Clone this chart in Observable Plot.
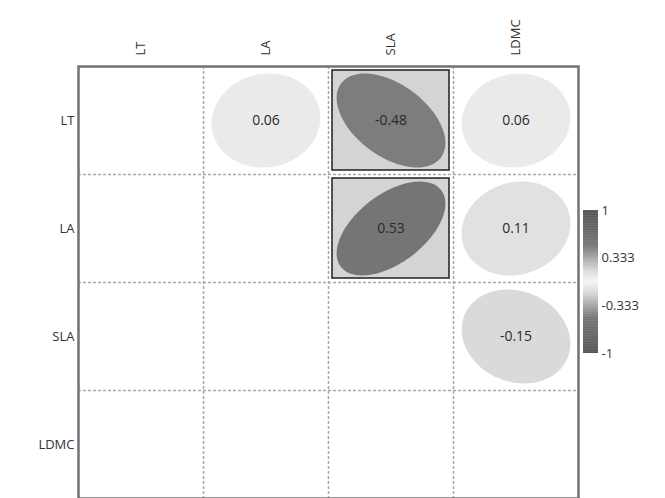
<!DOCTYPE html>
<html>
<head>
<meta charset="utf-8">
<script src="https://cdn.jsdelivr.net/npm/d3@7"></script>
<script src="https://cdn.jsdelivr.net/npm/@observablehq/plot@0.6"></script>
<style>
  html, body { margin: 0; padding: 0; background: #fff; overflow: hidden; }
  #wrap { position: relative; width: 665px; height: 498px; font-family: "Open Sans", sans-serif; }
  #legend { position: absolute; left: 583px; top: 200px; }
</style>
</head>
<body>
<div id="wrap">
  <div id="chart"></div>
  <div id="legend"></div>
</div>
<script>
// ---- data ----
const vars = ["LT", "LA", "SLA", "LDMC"];
const rowVar = ["LT", "LT", "LT", "LA", "LA", "SLA"];
const colVar = ["LA", "SLA", "LDMC", "SLA", "LDMC", "LDMC"];
const corr = [0.06, -0.48, 0.06, 0.53, 0.11, -0.15];
const significant = [false, true, false, true, false, false];
const legendTicks = [1, 0.333, -0.333, -1];

// ---- derived tables ----
const cells = corr.map((r, i) => ({
  key: i,
  row: vars.indexOf(rowVar[i]),
  col: vars.indexOf(colVar[i]),
  r,
  sig: significant[i]
}));

const N = 120, S = 0.87;
const ellipsePts = cells.flatMap(c => {
  const a = Math.acos(c.r);
  return d3.range(N).map(j => {
    const k = (2 * Math.PI * j) / N;
    return {
      key: c.key,
      r: c.r,
      x: c.col + 0.5 + S * Math.cos(k + a / 2) / 2,
      y: c.row + 0.5 - S * Math.cos(k - a / 2) / 2
    };
  });
});

const colorScale = {
  type: "linear",
  domain: [-1, -0.5, -0.15, 0, 0.15, 0.5, 1],
  range: ["#565656", "#777777", "#dadada", "#f5f5f5", "#dadada", "#777777", "#565656"]
};

const chart = Plot.plot({
  width: 665,
  height: 502,
  marginTop: 66,
  marginLeft: 78,
  marginRight: 87,
  marginBottom: 4,
  x: { domain: [0, vars.length], axis: null },
  y: { domain: [0, vars.length], reverse: true, axis: null },
  color: colorScale,
  style: { fontFamily: "Open Sans, sans-serif", fontSize: "13px", color: "#333", background: "#fff" },
  marks: [
    Plot.ruleX(d3.range(1, vars.length), { stroke: "#a8a8a8", strokeWidth: 1.5, strokeDasharray: "3,2" }),
    Plot.ruleY(d3.range(1, vars.length), { stroke: "#a8a8a8", strokeWidth: 1.5, strokeDasharray: "3,2" }),
    Plot.rect(cells.filter(d => d.sig), {
      x1: d => d.col, x2: d => d.col + 1, y1: d => d.row, y2: d => d.row + 1,
      inset: 4, fill: "#d4d4d4", stroke: "#1e1e1e", strokeWidth: 1.5
    }),
    Plot.line(ellipsePts, { x: "x", y: "y", z: "key", fill: "r", stroke: "none", curve: "linear-closed" }),
    Plot.text(cells, {
      x: d => d.col + 0.5, y: d => d.row + 0.5,
      text: d => d.r.toFixed(2), fontSize: 14, fill: "#2a2a2a"
    }),
    Plot.text(vars, {
      x: (d, i) => i + 0.5, y: 0, dy: -11, rotate: -90, textAnchor: "start",
      text: d => d, fontSize: 13, fill: "#333"
    }),
    Plot.text(vars, {
      x: 0, y: (d, i) => i + 0.5, dx: -4, textAnchor: "end",
      text: d => d, fontSize: 13, fill: "#333"
    }),
    Plot.frame({ stroke: "#727272", strokeWidth: 2.5 })
  ]
});
document.getElementById("chart").appendChild(chart);

// ---- legend ----
const step = 0.01;
const ramp = d3.range(-1, 1, step);
const legend = Plot.plot({
  width: 82,
  height: 163,
  marginTop: 10,
  marginBottom: 10,
  marginLeft: 0,
  marginRight: 67,
  x: { domain: [0, 1], axis: null },
  y: { domain: [-1, 1], axis: null },
  color: colorScale,
  style: { fontFamily: "Open Sans, sans-serif", fontSize: "13px", color: "#333", background: "transparent" },
  marks: [
    Plot.rect(ramp, {
      x1: 0, x2: 1, y1: d => d, y2: d => Math.min(1, d + step * 1.6),
      fill: d => d + step / 2, inset: 0
    }),
    Plot.axisY(legendTicks, {
      anchor: "right", tickSize: 0, tickPadding: 3,
      tickFormat: d => String(d), fontSize: 13, fill: "#333"
    })
  ]
});
document.getElementById("legend").appendChild(legend);
</script>
</body>
</html>
